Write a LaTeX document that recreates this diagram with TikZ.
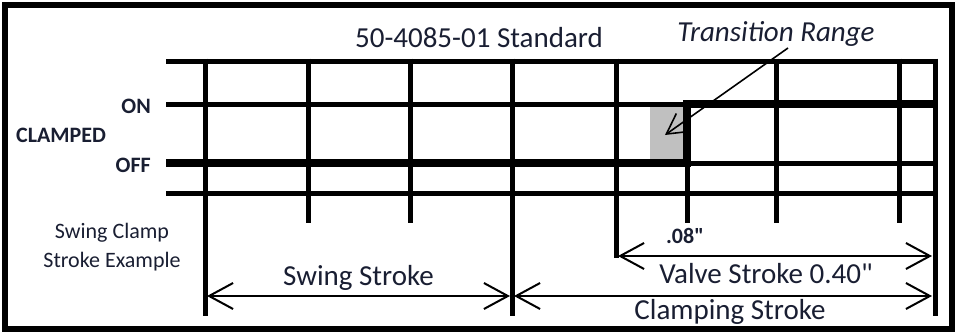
\documentclass[tikz,border=0pt]{standalone}
\usepackage{fontspec}
\setmainfont{Carlito}
\newfontfamily\nomap{Carlito}[Ligatures=TeXOff]
\usetikzlibrary{arrows.meta}
\definecolor{txt}{RGB}{25,30,50}
\definecolor{greyfill}{RGB}{192,192,192}
\newcommand{\dq}{{\nomap"}}
\begin{document}
\begin{tikzpicture}[x=1pt,y=-1pt,
  big/.style={font=\fontsize{29}{34}\selectfont, text=txt, inner sep=0pt, anchor=base},
  small/.style={font=\fontsize{22}{26}\selectfont, text=txt, inner sep=0pt, anchor=base},
  gridline/.style={line width=5pt},
  signal/.style={line width=8pt, line join=miter},
  dimarrow/.style={line width=2pt, {Straight Barb[length=24pt,width=26pt]}-{Straight Barb[length=24pt,width=26pt]}},
  callout/.style={line width=1.6pt, -{Straight Barb[length=20pt,width=22pt]}},
  frame/.style={line width=6pt}
]
\useasboundingbox (0,0) rectangle (956,332);
\draw[frame] (5,5) rectangle (952,329);

% shaded transition range
\fill[greyfill] (650,104) rectangle (687,163);

% horizontal grid lines
\foreach \yy in {61,104,163,193}
  \draw[gridline] (166,\yy) -- (938,\yy);
% vertical grid lines
\draw[gridline] (205.5,58.5) -- (205.5,316);
\draw[gridline] (308,58.5) -- (308,223);
\draw[gridline] (410.5,58.5) -- (410.5,223);
\draw[gridline] (512,58.5) -- (512,316);
\draw[gridline] (616,58.5) -- (616,258);
\draw[gridline] (687,163) -- (687,223);
\draw[gridline] (776,58.5) -- (776,223);
\draw[gridline] (899,58.5) -- (899,223);
\draw[gridline] (935.5,58.5) -- (935.5,316);

% signal
\draw[signal] (166,163) -- (687,163) -- (687,104) -- (938,104);

% labels
\node[big] (title) at (479,47) {50-4085-01 Standard};
\node[big, font=\fontsize{29}{34}\selectfont\itshape] (trans) at (776,41) {Transition Range};
\node[small, font=\fontsize{22}{26}\selectfont\bfseries, anchor=base east] (on) at (151,113) {ON};
\node[small, font=\fontsize{22}{26}\selectfont\bfseries, anchor=base west] (clamped) at (16,142) {CLAMPED};
\node[small, font=\fontsize{22}{26}\selectfont\bfseries, anchor=base east] (off) at (151,172) {OFF};
\node[small] (ex1) at (112,238) {Swing Clamp};
\node[small] (ex2) at (112,267) {Stroke Example};
\node[big] (swing) at (358.5,285) {Swing Stroke};
\node[small, font=\fontsize{22}{26}\selectfont\bfseries] (p08) at (685,243) {.08\dq};
\node[big] (valve) at (766,283) {Valve Stroke 0.40\dq};
\node[big] (clamping) at (730,319) {Clamping Stroke};

% dimension arrows
\coordinate (sw1) at (207,296);
\coordinate (sw2) at (510,296);
\coordinate (cl1) at (514,296);
\coordinate (cl2) at (932,296);
\coordinate (va1) at (618,256);
\coordinate (va2) at (932,256);
\draw[dimarrow] (sw1) -- (sw2);
\draw[dimarrow] (cl1) -- (cl2);
\draw[dimarrow] (va1) -- (va2);

% callout
\coordinate (tr1) at (788,48);
\coordinate (tr2) at (665,135);
\draw[callout] (tr1) -- (tr2);
\end{tikzpicture}
\end{document}
